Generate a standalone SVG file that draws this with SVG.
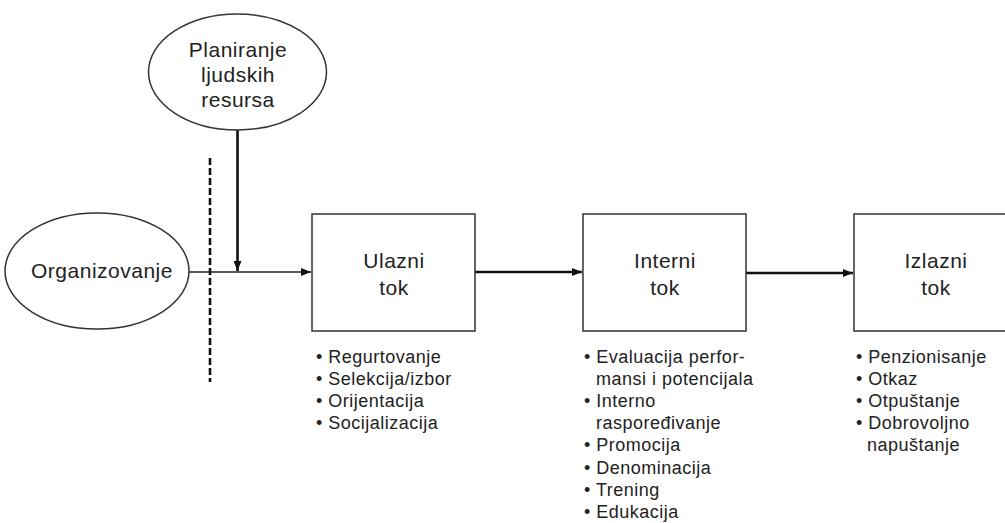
<svg xmlns="http://www.w3.org/2000/svg" width="1005" height="523" viewBox="0 0 1005 523">
<style>
.bg{fill:#ffffff}
.shape{fill:#ffffff;stroke:#333333;stroke-width:1.5}
.big{font-family:"Liberation Sans",Arial,sans-serif;font-size:21px;letter-spacing:0.5px;fill:#222222;text-anchor:middle}
.list{font-family:"Liberation Sans",Arial,sans-serif;font-size:18px;letter-spacing:0.5px;fill:#222222}
.thin{stroke:#222222;stroke-width:1.6;fill:none}
.thick{stroke:#111111;stroke-width:2.6;fill:none}
.dash{stroke:#111111;stroke-width:2.6;stroke-dasharray:7,3;fill:none}
</style>
<defs>
<marker id="ah" viewBox="0 0 10 8" refX="10" refY="4" markerWidth="10" markerHeight="8" markerUnits="userSpaceOnUse" orient="auto">
<path d="M0,0 L10,4 L0,8 z" fill="#111111"/>
</marker>
</defs>
<rect class="bg" x="0" y="0" width="1005" height="523"/>
<g id="connectors">
<line class="dash" x1="210" y1="158" x2="210" y2="382"/>
<line class="thin" x1="189" y1="272" x2="311" y2="272" marker-end="url(#ah)"/>
<line class="thick" x1="237.5" y1="130" x2="237.5" y2="271" marker-end="url(#ah)"/>
<line class="thick" x1="475" y1="272" x2="582" y2="272" marker-end="url(#ah)"/>
<line class="thick" x1="746" y1="273" x2="853" y2="273" marker-end="url(#ah)"/>
</g>
<g id="planiranje">
<ellipse class="shape" cx="237.5" cy="72" rx="89" ry="58"/>
<text class="big" x="238" y="57">Planiranje</text>
<text class="big" x="238" y="82">ljudskih</text>
<text class="big" x="238" y="107">resursa</text>
</g>
<g id="organizovanje">
<ellipse class="shape" cx="97" cy="271" rx="92" ry="58"/>
<text class="big" x="102" y="278">Organizovanje</text>
</g>
<g id="ulazni">
<rect class="shape" x="312" y="214" width="163" height="117"/>
<text class="big" x="394" y="268">Ulazni</text>
<text class="big" x="394" y="295">tok</text>
</g>
<g id="interni">
<rect class="shape" x="583" y="214" width="163" height="117"/>
<text class="big" x="665" y="268">Interni</text>
<text class="big" x="665" y="295">tok</text>
</g>
<g id="izlazni">
<rect class="shape" x="854" y="214" width="163" height="117"/>
<text class="big" x="936" y="268">Izlazni</text>
<text class="big" x="936" y="295">tok</text>
</g>
<g id="ulazni-list" class="list">
<text x="316" y="363">• Regurtovanje</text>
<text x="316" y="385">• Selekcija/izbor</text>
<text x="316" y="407">• Orijentacija</text>
<text x="316" y="429">• Socijalizacija</text>
</g>
<g id="interni-list" class="list">
<text x="584" y="363">• Evaluacija perfor-</text>
<text x="596" y="385">mansi i potencijala</text>
<text x="584" y="407">• Interno</text>
<text x="596" y="429">raspoređivanje</text>
<text x="584" y="451">• Promocija</text>
<text x="584" y="474">• Denominacija</text>
<text x="584" y="496">• Trening</text>
<text x="584" y="518">• Edukacija</text>
</g>
<g id="izlazni-list" class="list">
<text x="856" y="363">• Penzionisanje</text>
<text x="856" y="385">• Otkaz</text>
<text x="856" y="407">• Otpuštanje</text>
<text x="856" y="429">• Dobrovoljno</text>
<text x="867" y="451">napuštanje</text>
</g>
</svg>
